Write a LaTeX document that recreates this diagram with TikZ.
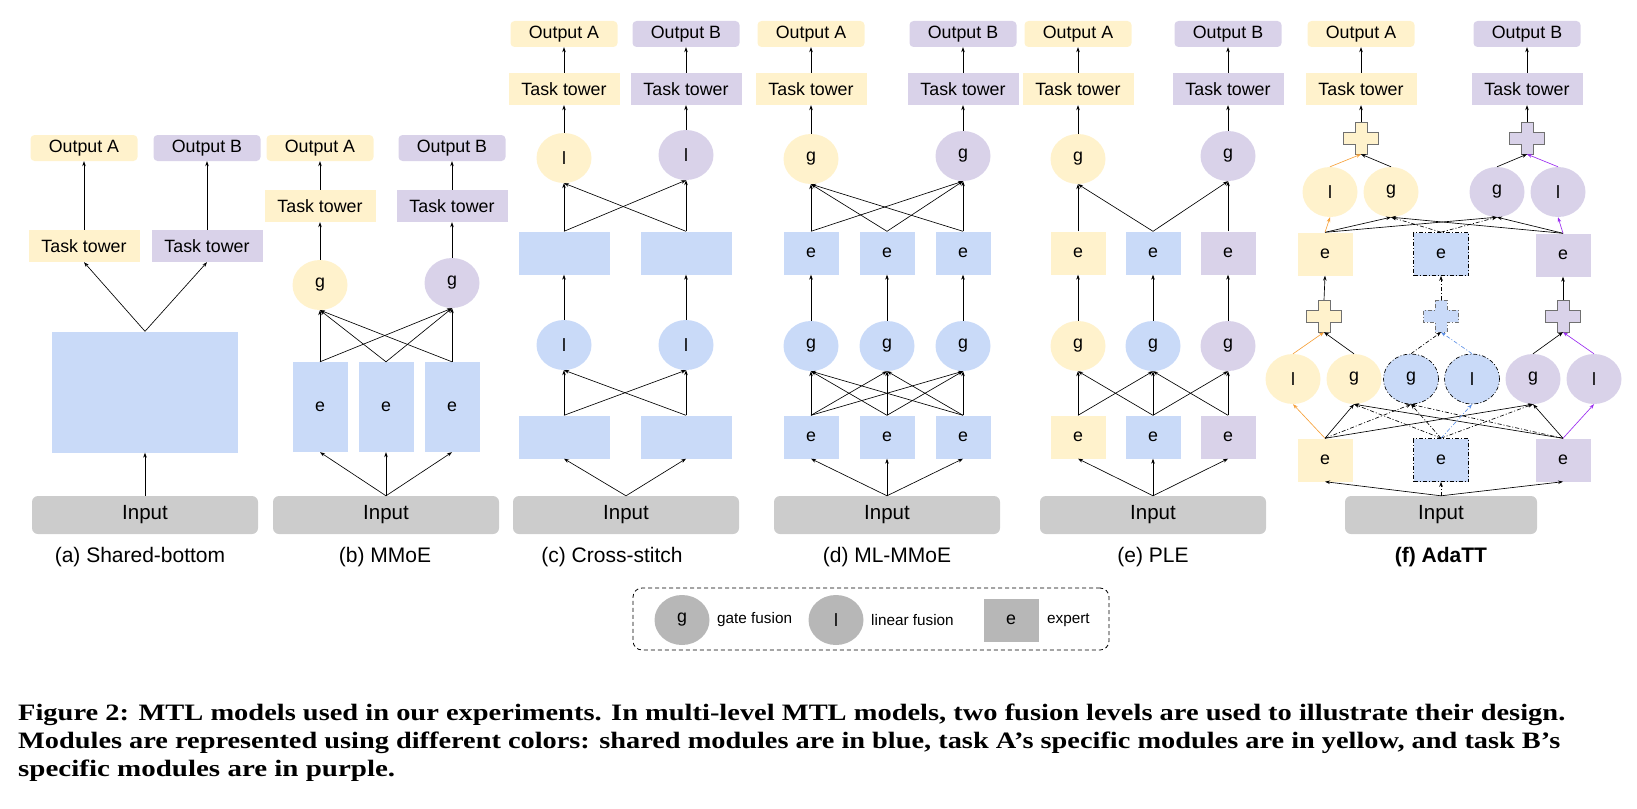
\documentclass[tikz,border=0pt]{standalone}
\usepackage{graphicx}
\usepackage{fontspec}
\setmainfont{Liberation Serif}
\setsansfont{Liberation Sans}
\usetikzlibrary{shapes.geometric,arrows.meta}

\definecolor{ylw}{HTML}{FFF2CC}
\definecolor{prp}{HTML}{D9D2E9}
\definecolor{blu}{HTML}{C9DAF8}
\definecolor{inpgray}{HTML}{CCCCCC}
\definecolor{leggray}{HTML}{B7B7B7}
\definecolor{crossgray}{HTML}{707070}
\definecolor{arrorange}{HTML}{F6A13A}
\definecolor{arrpurple}{HTML}{9A2BF0}
\definecolor{arrblue}{HTML}{5B8FE6}

\tikzset{
  every node/.style={inner sep=0pt, font=\sffamily\fontsize{17.8}{20}\selectfont},
  outbox/.style={rounded corners=4pt, minimum width=107pt, minimum height=26pt},
  tower/.style={minimum width=111pt, minimum height=32pt},
  fuse/.style={ellipse, minimum width=55pt, minimum height=50pt},
  expbox/.style={minimum width=55pt, minimum height=43pt},
  widebox/.style={fill=blu, minimum width=91pt, minimum height=43pt},
  inbox/.style={fill=inpgray, rounded corners=6pt, minimum width=226pt, minimum height=38pt, font=\sffamily\fontsize{20.5}{23}\selectfont},
  sub/.style={font=\sffamily\fontsize{21}{24}\selectfont},
  arr/.style={-{Stealth[length=5pt,width=3.6pt]}, line width=0.65pt},
  dd/.style={dash pattern=on 4pt off 2pt on 1pt off 2pt},
  sharedmod/.style={fill=blu, draw=black, line width=0.65pt, dd},
  plusshape/.style={draw=crossgray, line width=0.9pt},
  plusnode/.style={minimum width=35pt, minimum height=32pt},
  capline/.style={anchor=base west, font=\rmfamily\bfseries\fontsize{23.5}{28}\selectfont},
}

\begin{document}
\begin{tikzpicture}[x=1pt, y=-1pt]
    \useasboundingbox (0,0) rectangle (1637,808);

    % (a) Shared-bottom
    \node[outbox, fill=ylw] (aoA) at (84,148) {Output A};
    \node[outbox, fill=prp] (aoB) at (207,148) {Output B};
    \node[tower, fill=ylw] (atA) at (84,246) {Task tower};
    \node[tower, fill=prp] (atB) at (207,246) {Task tower};
    \node[fill=blu, minimum width=186pt, minimum height=121pt] (ash) at (145,392) {};
    \node[inbox] (ain) at (145,515) {Input};
    \node[sub] (acap) at (140,557) {(a) Shared-bottom};
    \draw[arr] (ain.north) -- (ash.south);
    \foreach \t in {A,B} {
        \draw[arr] (ash.north) -- (at\t.south);
        \draw[arr] (at\t.north) -- (ao\t.south);
    }

    % (b) MMoE
    \node[outbox, fill=ylw] (boA) at (320,148) {Output A};
    \node[outbox, fill=prp] (boB) at (452,148) {Output B};
    \node[tower, fill=ylw] (btA) at (320,206) {Task tower};
    \node[tower, fill=prp] (btB) at (452,206) {Task tower};
    \node[fuse, fill=ylw] (bgA) at (320,285) {g};
    \node[fuse, fill=prp] (bgB) at (452,283) {g};
    \foreach \i/\x in {1/320,2/386,3/452}
        \node[fill=blu, minimum width=55pt, minimum height=90pt] (be\i) at (\x,407) {e};
    \node[inbox] (bin) at (386,515) {Input};
    \node[sub] (bcap) at (385,557) {(b) MMoE};
    \foreach \i in {1,2,3} {
        \draw[arr] (bin.north) -- (be\i.south);
        \draw[arr] (be\i.north) -- (bgA.south);
        \draw[arr] (be\i.north) -- (bgB.south);
    }
    \foreach \t in {A,B} {
        \draw[arr] (bg\t.north) -- (bt\t.south);
        \draw[arr] (bt\t.north) -- (bo\t.south);
    }

    % (c) Cross-stitch
    \node[outbox, fill=ylw] (coA) at (564,34) {Output A};
    \node[outbox, fill=prp] (coB) at (686,34) {Output B};
    \node[tower, fill=ylw] (ctA) at (564,89) {Task tower};
    \node[tower, fill=prp] (ctB) at (686,89) {Task tower};
    \node[fuse, fill=ylw] (clA) at (564,158) {l};
    \node[fuse, fill=prp] (clB) at (686,155) {l};
    \foreach \t/\x in {A/564,B/686} {
        \node[widebox] (cu\t) at (\x,253) {};
        \node[fuse, fill=blu] (cm\t) at (\x,345) {l};
        \node[widebox] (cb\t) at (\x,437) {};
    }
    \node[inbox] (cin) at (626,515) {Input};
    \node[sub] (ccap) at (612,557) {(c) Cross-stitch};
    \foreach \t in {A,B} {
        \draw[arr] (cin.north) -- (cb\t.south);
        \foreach \s in {A,B} {
            \draw[arr] (cb\t.north) -- (cm\s.south);
            \draw[arr] (cu\t.north) -- (cl\s.south);
        }
        \draw[arr] (cm\t.north) -- (cu\t.south);
        \draw[arr] (cl\t.north) -- (ct\t.south);
        \draw[arr] (ct\t.north) -- (co\t.south);
    }

    % (d) ML-MMoE
    \node[outbox, fill=ylw] (doA) at (811,34) {Output A};
    \node[outbox, fill=prp] (doB) at (963,34) {Output B};
    \node[tower, fill=ylw] (dtA) at (811,89) {Task tower};
    \node[tower, fill=prp] (dtB) at (963,89) {Task tower};
    \node[fuse, fill=ylw] (dgA) at (811,159) {g};
    \node[fuse, fill=prp] (dgB) at (963,156) {g};
    \foreach \i/\x in {1/811,2/887,3/963} {
        \node[expbox, fill=blu] (du\i) at (\x,253) {e};
        \node[fuse, fill=blu] (dm\i) at (\x,346) {g};
        \node[expbox, fill=blu] (db\i) at (\x,437) {e};
    }
    \node[inbox] (din) at (887,515) {Input};
    \node[sub] (dcap) at (887,557) {(d) ML-MMoE};
    \foreach \i in {1,2,3} {
        \draw[arr] (din.north) -- (db\i.south);
        \foreach \j in {1,2,3}
            \draw[arr] (db\i.north) -- (dm\j.south);
        \draw[arr] (dm\i.north) -- (du\i.south);
        \draw[arr] (du\i.north) -- (dgA.south);
        \draw[arr] (du\i.north) -- (dgB.south);
    }
    \foreach \t in {A,B} {
        \draw[arr] (dg\t.north) -- (dt\t.south);
        \draw[arr] (dt\t.north) -- (do\t.south);
    }

    % (e) PLE
    \node[outbox, fill=ylw] (poA) at (1078,34) {Output A};
    \node[outbox, fill=prp] (poB) at (1228,34) {Output B};
    \node[tower, fill=ylw] (ptA) at (1078,89) {Task tower};
    \node[tower, fill=prp] (ptB) at (1228,89) {Task tower};
    \node[fuse, fill=ylw] (pgA) at (1078,159) {g};
    \node[fuse, fill=prp] (pgB) at (1228,156) {g};
    \foreach \i/\x/\c in {1/1078/ylw,2/1153/blu,3/1228/prp} {
        \node[expbox, fill=\c] (pu\i) at (\x,253) {e};
        \node[fuse, fill=\c] (pm\i) at (\x,346) {g};
        \node[expbox, fill=\c] (pb\i) at (\x,437) {e};
    }
    \node[inbox] (pin) at (1153,515) {Input};
    \node[sub] (pcap) at (1153,557) {(e) PLE};
    \foreach \i in {1,2,3} {
        \draw[arr] (pin.north) -- (pb\i.south);
        \draw[arr] (pb2.north) -- (pm\i.south);
        \draw[arr] (pm\i.north) -- (pu\i.south);
    }
    \foreach \s/\t in {pb1/pm1, pb1/pm2, pb3/pm2, pb3/pm3, pu1/pgA, pu2/pgA, pu2/pgB, pu3/pgB}
        \draw[arr] (\s.north) -- (\t.south);
    \foreach \t in {A,B} {
        \draw[arr] (pg\t.north) -- (pt\t.south);
        \draw[arr] (pt\t.north) -- (po\t.south);
    }

    % (f) AdaTT
    \node[outbox, fill=ylw] (foA) at (1361,34) {Output A};
    \node[outbox, fill=prp] (foB) at (1527,34) {Output B};
    \node[tower, fill=ylw] (fttA) at (1361,89) {Task tower};
    \node[tower, fill=prp] (fttB) at (1527,89) {Task tower};
    \node[plusnode] (fqA) at (1361,138) {};
    \node[plusnode] (fqB) at (1527,138) {};
    \node[fuse, fill=ylw] (ftlA) at (1330,192) {l};
    \node[fuse, fill=ylw] (ftgA) at (1391,192) {g};
    \node[fuse, fill=prp] (ftgB) at (1497,192) {g};
    \node[fuse, fill=prp] (ftlB) at (1558,192) {l};
    \node[expbox, fill=ylw] (fuA) at (1325,254) {e};
    \node[expbox, sharedmod] (fuS) at (1441,254) {e};
    \node[expbox, fill=prp] (fuB) at (1563,255) {e};
    \node[plusnode] (fpA) at (1324,316) {};
    \node[plusnode] (fpS) at (1441,316) {};
    \node[plusnode] (fpB) at (1563,316) {};
    \node[fuse, fill=ylw] (fl1) at (1293,379) {l};
    \node[fuse, fill=ylw] (fl2) at (1354,379) {g};
    \node[fuse, sharedmod] (fl3) at (1411,379) {g};
    \node[fuse, sharedmod] (fl4) at (1472,379) {l};
    \node[fuse, fill=prp] (fl5) at (1533,379) {g};
    \node[fuse, fill=prp] (fl6) at (1594,379) {l};
    \node[expbox, fill=ylw] (feA) at (1325,460) {e};
    \node[expbox, sharedmod] (feS) at (1441,460) {e};
    \node[expbox, fill=prp] (feB) at (1563,460) {e};
    \node[inbox, minimum width=192pt] (fin) at (1441,515) {Input};
    \node[sub, font=\sffamily\bfseries\fontsize{21}{24}\selectfont] (fcap) at (1441,557) {(f) AdaTT};
    % plus signs
    \foreach \p/\c/\k in {fqA/ylw/solid, fqB/prp/solid, fpA/ylw/solid, fpS/blu/dd, fpB/prp/solid}
        \draw[plusshape, fill=\c, \k] (\p.center) +(-6,-16) -- +(6,-16) -- +(6,-6) -- +(17.5,-6) -- +(17.5,6) -- +(6,6) -- +(6,16) -- +(-6,16) -- +(-6,6) -- +(-17.5,6) -- +(-17.5,-6) -- +(-6,-6) -- cycle;
    % lower level
    \draw[arr] (fin.north) -- (feA.south);
    \draw[arr] (fin.north) -- (feB.south);
    \draw[arr, dd] (fin.north) -- (feS.south);
    \foreach \s/\t/\k in {feA/fl2/solid, feA/fl3/dd, feA/fl5/solid, feS/fl2/dd, feS/fl3/dd, feS/fl5/dd, feB/fl5/solid, feB/fl3/dd, feB/fl2/solid}
        \draw[arr, \k] (\s.north) -- (\t.south);
    \draw[arr, arrorange] (feA.north) -- (fl1.south);
    \draw[arr, arrblue, dd] (feS.north) -- (fl4.south);
    \draw[arr, arrpurple] (feB.north) -- (fl6.south);
    \draw[arr, arrorange] (fl1.north) -- (fpA.south);
    \draw[arr] (fl2.north) -- (fpA.south);
    \draw[arr, dd] (fl3.north) -- (fpS.south);
    \draw[arr, arrblue, dd] (fl4.north) -- (fpS.south);
    \draw[arr] (fl5.north) -- (fpB.south);
    \draw[arr, arrpurple] (fl6.north) -- (fpB.south);
    \draw[arr] (fpA.north) -- (fuA.south);
    \draw[arr, dd] (fpS.north) -- (fuS.south);
    \draw[arr] (fpB.north) -- (fuB.south);
    % upper level
    \foreach \s/\t/\k in {fuA/ftgA/solid, fuA/ftgB/solid, fuS/ftgA/dd, fuS/ftgB/dd, fuB/ftgB/solid, fuB/ftgA/solid}
        \draw[arr, \k] (\s.north) -- (\t.south);
    \draw[arr, arrorange] (fuA.north) -- (ftlA.south);
    \draw[arr, arrpurple] (fuB.north) -- (ftlB.south);
    \draw[arr, arrorange] (ftlA.north) -- (fqA.south);
    \draw[arr] (ftgA.north) -- (fqA.south);
    \draw[arr] (ftgB.north) -- (fqB.south);
    \draw[arr, arrpurple] (ftlB.north) -- (fqB.south);
    \foreach \t in {A,B} {
        \draw[arr] (fq\t.north) -- (ftt\t.south);
        \draw[arr] (ftt\t.north) -- (fo\t.south);
    }

    % legend
    \node[draw, dash pattern=on 4pt off 3pt, line width=0.8pt, rounded corners=9pt, minimum width=476pt, minimum height=62pt] (leg) at (871,619) {};
    \node[fuse, fill=leggray] (legg) at (682,620) {g};
    \node[anchor=west, font=\sffamily\fontsize{15.3}{18}\selectfont] (leggt) at (717,620) {gate fusion};
    \node[fuse, fill=leggray] (legl) at (836,620) {l};
    \node[anchor=west, font=\sffamily\fontsize{15.3}{18}\selectfont] (leglt) at (871,620) {linear fusion};
    \node[expbox, fill=leggray] (lege) at (1011,620) {e};
    \node[anchor=west, font=\sffamily\fontsize{15.3}{18}\selectfont] (leget) at (1047,620) {expert};

    % figure caption
    \node[capline] (cap1) at (18,720) {\resizebox{1547pt}{\height}{Figure 2: MTL models used in our experiments. In multi-level MTL models, two fusion levels are used to illustrate their design.}};
    \node[capline] (cap2) at (18,748) {\resizebox{1542pt}{\height}{Modules are represented using different colors: shared modules are in blue, task A’s specific modules are in yellow, and task B’s}};
    \node[capline] (cap3) at (18,776) {\resizebox{377pt}{\height}{specific modules are in purple.}};
\end{tikzpicture}
\end{document}
